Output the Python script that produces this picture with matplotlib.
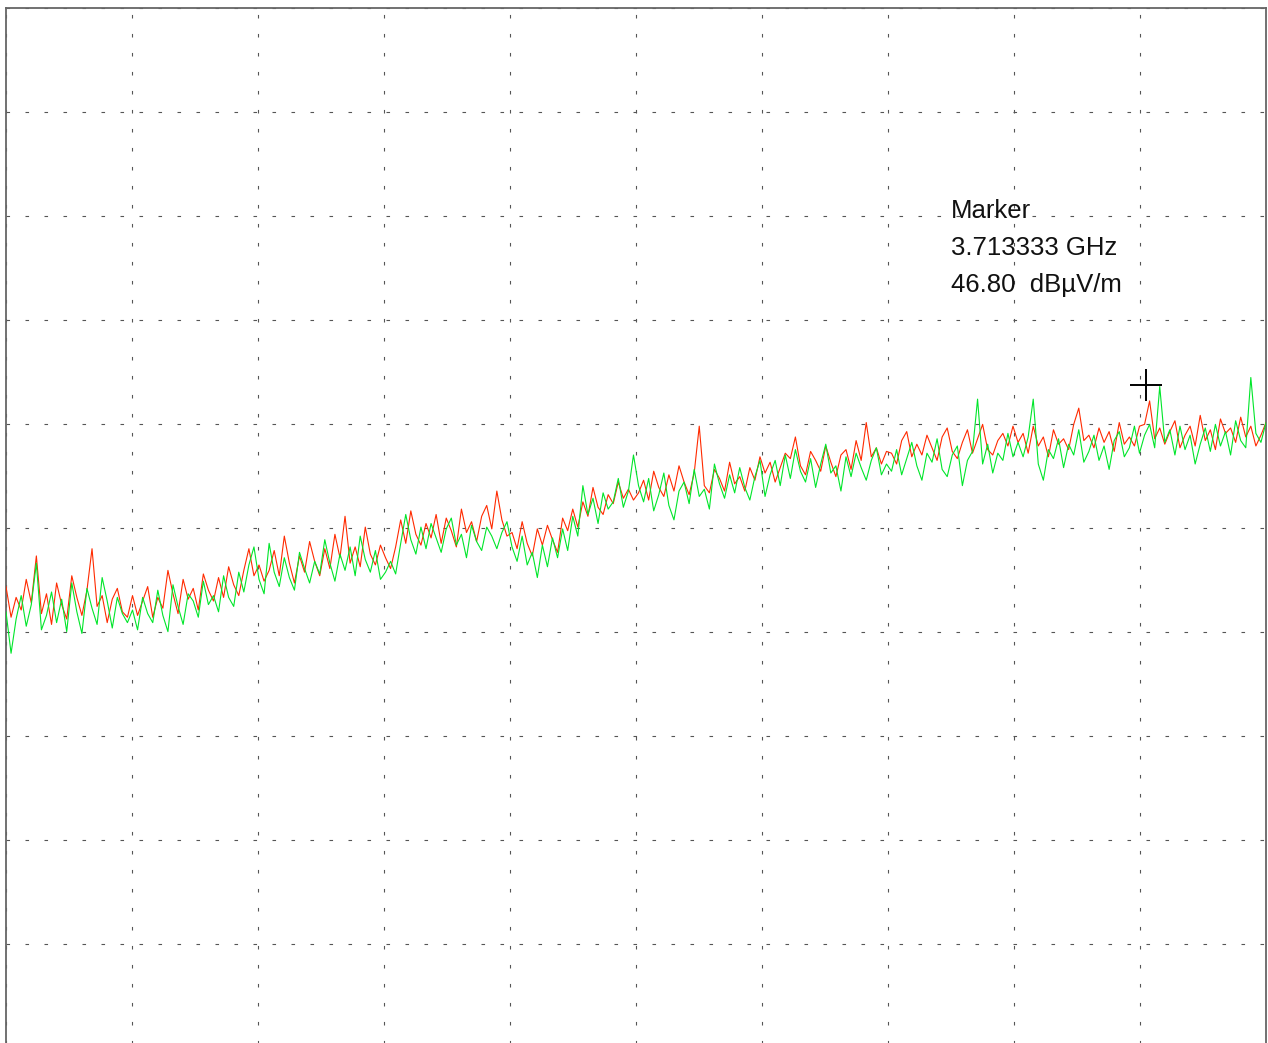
import numpy as np
import matplotlib
matplotlib.use("Agg")
import matplotlib.pyplot as plt

# Sweep: 1 GHz to 4 GHz
f_start, f_stop = 1.0, 4.0
y_low, y_high = 10.0, 67.7

green_trace = [
    34.2, 31.9, 33.8, 35.1, 33.4, 34.6, 36.9, 33.2, 34.0, 35.3, 33.6, 34.9, 33.1, 35.8, 34.2, 33.0, 35.5, 34.4, 33.5, 36.1, 34.8, 33.3, 35.0, 34.1, 33.6,
    34.3, 33.2, 35.0, 34.1, 33.6, 35.4, 34.0, 33.1, 35.7, 34.5, 33.5, 35.2, 34.8, 33.9, 35.9, 34.6, 35.1, 34.2, 36.2, 35.0, 34.5, 36.4, 35.3, 36.8, 37.8,
    36.0, 35.2, 38.0, 36.4, 35.6, 37.2, 36.1, 35.4, 37.5, 36.6, 35.8, 37.0, 36.3, 38.2, 36.9, 35.9, 37.4, 36.5, 37.8, 36.2, 38.4, 37.1, 36.4, 37.6, 36.0,
    36.4, 37.0, 36.3, 38.0, 39.6, 38.2, 37.4, 38.9, 37.7, 39.1, 38.3, 37.5, 38.8, 39.4, 37.9, 38.5, 37.2, 39.0, 38.1, 37.6, 38.9, 38.4, 37.7, 38.6, 39.2,
    37.8, 37.0, 38.4, 36.8, 37.5, 36.1, 37.9, 36.7, 38.3, 37.2, 38.8, 37.6, 39.5, 38.4, 41.2, 39.6, 40.5, 39.1, 40.8, 39.9, 40.3, 41.6, 40.0, 40.9, 42.9,
    41.2, 40.3, 41.6, 39.8, 40.7, 41.9, 40.1, 39.3, 40.9, 41.4, 40.2, 42.1, 40.6, 41.0, 39.9, 42.4, 41.3, 40.5, 41.8, 40.8, 42.2, 41.1, 40.4, 41.7, 42.6,
    40.6, 41.8, 42.6, 41.2, 42.9, 41.6, 43.2, 42.0, 41.4, 42.7, 41.1, 42.4, 43.5, 41.9, 42.3, 40.9, 42.8, 41.7, 43.0, 42.2, 41.5, 42.6, 43.3, 41.8, 42.4,
    42.0, 43.2, 41.8, 42.7, 43.6, 42.3, 41.5, 43.0, 42.5, 43.8, 42.1, 41.7, 42.9, 43.4, 41.2, 42.6, 43.1, 46.0, 42.4, 43.5, 41.9, 43.0, 42.6, 44.1, 42.8,
    43.6, 42.8, 43.9, 46.0, 42.4, 41.5, 43.2, 42.7, 43.8, 42.2, 43.5, 42.9, 44.3, 42.5, 43.1, 44.0, 42.6, 43.4, 42.1, 43.7, 44.2, 42.8, 43.3, 44.5, 43.0,
    44.0, 44.6, 43.3, 46.7, 43.6, 44.3, 42.9, 44.5, 43.2, 44.0, 42.4, 43.5, 44.4, 43.1, 44.6, 43.4, 44.2, 42.9, 44.8, 43.7, 43.3, 47.2, 44.1, 43.6, 44.7,
]

red_trace = [
    35.6, 33.9, 35.0, 34.3, 36.0, 34.7, 37.3, 34.1, 35.2, 33.5, 35.8, 34.6, 33.8, 36.2, 35.0, 34.0, 35.4, 37.7, 34.5, 35.1, 33.6, 34.9, 35.5, 34.2, 33.9,
    35.1, 34.0, 34.8, 35.6, 33.9, 35.0, 34.4, 36.5, 35.2, 34.1, 36.0, 34.9, 35.5, 34.3, 36.3, 35.4, 34.8, 36.1, 35.0, 36.7, 35.7, 35.1, 36.5, 37.7, 36.2,
    36.8, 35.9, 36.5, 37.6, 36.2, 38.4, 36.9, 35.8, 37.3, 36.4, 38.1, 37.0, 36.2, 37.7, 36.6, 38.5, 37.2, 39.5, 36.9, 37.8, 36.7, 38.9, 37.4, 36.8, 37.9,
    37.2, 36.6, 37.8, 39.3, 38.0, 39.8, 38.5, 37.9, 39.1, 38.3, 39.6, 38.0, 39.4, 38.7, 37.8, 39.9, 38.6, 39.2, 38.1, 39.5, 40.1, 38.8, 40.9, 39.3, 38.4,
    38.6, 37.7, 39.2, 38.0, 37.3, 38.8, 37.9, 39.0, 38.2, 37.5, 39.4, 38.7, 39.9, 38.9, 40.3, 39.5, 41.1, 40.0, 39.6, 40.7, 40.2, 41.4, 40.5, 41.0, 40.4,
    40.8, 41.5, 40.4, 42.0, 41.1, 40.6, 41.8, 40.9, 42.3, 41.4, 40.7, 41.9, 44.5, 41.2, 40.8, 42.1, 41.6, 40.9, 42.5, 41.3, 41.7, 40.9, 42.2, 41.5, 42.8,
    41.9, 42.5, 41.4, 42.2, 43.0, 42.7, 43.9, 42.3, 41.8, 43.1, 42.6, 42.0, 43.4, 42.5, 41.7, 42.9, 43.2, 42.1, 43.7, 42.6, 44.7, 42.8, 43.3, 42.4, 43.1,
    43.0, 42.4, 43.7, 44.2, 42.8, 43.5, 42.9, 44.0, 43.3, 42.6, 43.9, 44.4, 43.1, 42.7, 43.6, 44.3, 43.0, 43.8, 44.6, 43.2, 42.9, 43.7, 44.1, 43.4, 44.5,
    43.6, 44.1, 43.0, 44.5, 43.4, 43.9, 42.8, 44.3, 43.5, 43.8, 43.2, 44.6, 45.5, 43.7, 44.0, 43.3, 44.4, 43.6, 44.2, 43.1, 44.7, 43.5, 43.9, 43.4, 44.5,
    44.6, 45.9, 43.8, 44.4, 43.5, 44.2, 44.8, 43.3, 44.0, 44.5, 43.4, 45.1, 43.7, 44.3, 43.2, 44.9, 44.1, 44.4, 43.6, 45.0, 43.9, 44.5, 43.4, 44.0, 44.7,
]

marker_freq = 3.713333
marker_level = 46.80
marker_lines = ["Marker", "3.713333 GHz", "46.80  dBµV/m"]

freqs = np.linspace(f_start, f_stop, len(green_trace))

W, H = 1268, 1043
fig = plt.figure(figsize=(W / 100, H / 100), dpi=100)
ax = fig.add_axes([6 / W, (H - 1048) / H, 1260 / W, 1040 / H])

ax.plot(freqs, red_trace, color="#ff2a00", lw=0.8, zorder=3)
ax.plot(freqs, green_trace, color="#00e62a", lw=0.8, zorder=4)

ax.plot([marker_freq], [marker_level], marker="+", color="black",
        markersize=23, markeredgewidth=1.4, zorder=5)

ax.set_xlim(f_start, f_stop)
ax.set_ylim(y_low, y_high)
ax.set_xticks(np.linspace(f_start, f_stop, 11))
ax.set_yticks(np.linspace(y_low, y_high, 11))
ax.tick_params(length=0, labelbottom=False, labelleft=False)
ax.grid(True, color="#555555", lw=0.8, linestyle=(0, (3.2, 13.9)), zorder=1)

for s in ["left", "top", "right", "bottom"]:
    ax.spines[s].set_color("#666666")
    ax.spines[s].set_linewidth(1.3)

for txt, yp in zip(marker_lines, [218, 255, 292]):
    ax.text(0.75, (1048 - yp) / 1040, txt, transform=ax.transAxes,
            fontsize=18.5, family="Liberation Sans", color="#111111",
            ha="left", va="baseline", zorder=6)

fig.savefig("out.png", dpi=100)
